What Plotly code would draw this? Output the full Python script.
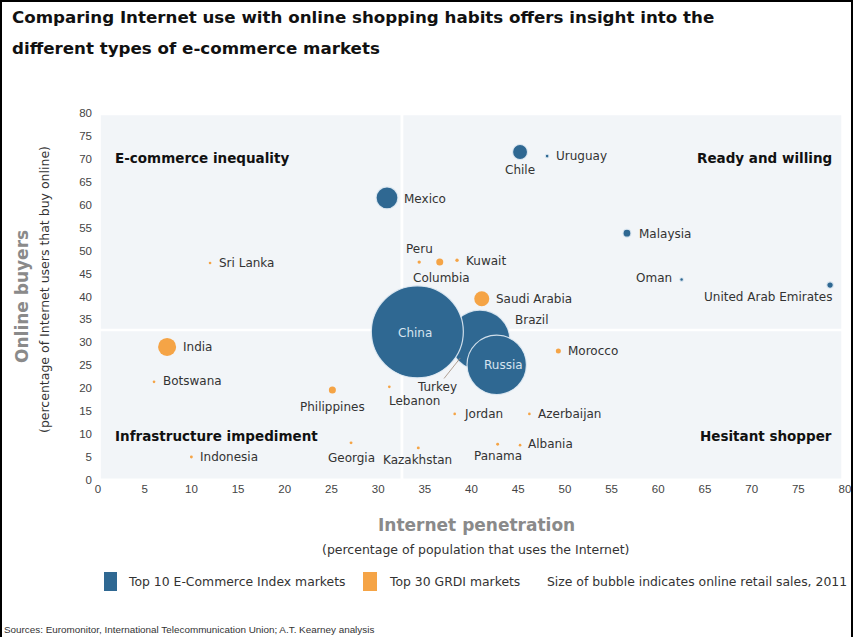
import plotly.graph_objects as go

# ---------------- data ----------------
blue_names = ["Brazil", "China", "Russia", "Mexico", "Chile", "Malaysia",
              "United Arab Emirates", "Uruguay", "Oman"]
blue_x = [40.9, 34.2, 42.7, 30.95, 45.2, 56.65, 78.4, 48.1, 62.5]
blue_y = [30.5, 32.3, 25.1, 61.5, 71.5, 53.8, 42.5, 70.6, 43.7]
blue_sales = [25.5, 60, 25, 3.4, 1.6, 0.45, 0.3, 0.1, 0.1]

orange_names = ["India", "Saudi Arabia", "Philippines", "Morocco", "Columbia", "Peru",
                "Kuwait", "Sri Lanka", "Botswana", "Lebanon", "Turkey", "Jordan",
                "Azerbaijan", "Albania", "Panama", "Kazakhstan", "Georgia", "Indonesia"]
orange_x = [7.4, 41.1, 25.1, 49.3, 36.6, 34.4, 38.45, 12.0, 6.0, 31.2, 38.8, 38.2,
            46.2, 45.2, 42.8, 34.3, 27.1, 10.0]
orange_y = [29.0, 39.5, 19.6, 28.1, 47.5, 47.5, 47.9, 47.3, 21.4, 20.3, 26.6, 14.4,
            14.4, 7.6, 7.8, 7.0, 8.1, 5.0]
orange_sales = [2.3, 1.6, 0.35, 0.18, 0.35, 0.08, 0.08, 0.05, 0.05, 0.05, 0.3, 0.05,
                0.05, 0.05, 0.06, 0.06, 0.06, 0.06]

x_ticks = list(range(0, 81, 5))
y_ticks = list(range(0, 81, 5))

quadrant_labels = ["E-commerce inequality", "Ready and willing",
                   "Infrastructure impediment", "Hesitant shopper"]

# ---------------- style / placement ----------------
BLUE = "#2f6892"
ORANGE = "#f5a446"
FONT = "DejaVu Sans, sans-serif"
TICKFONT = "Liberation Sans, Arial, sans-serif"
L, T, W, H = 98, 113, 747, 367          # plot area in px


def px(x):
    return (x - L) / W


def py(y):
    return (T + H - y) / H


# label placement: (xanchor, dx px, dy px screen-down)
label_place = {
    "Chile": ("center", 0, 18), "Uruguay": ("left", 7, 0), "Mexico": ("left", 15, 1),
    "Malaysia": ("left", 10, 1), "United Arab Emirates": ("right", 4, 12),
    "Oman": ("right", -8, -2), "Brazil": ("left", 33, -20),
    "India": ("left", 14, 0), "Saudi Arabia": ("left", 12, 0),
    "Philippines": ("center", 0, 17), "Morocco": ("left", 8, 0),
    "Columbia": ("center", 2, 16), "Peru": ("center", 0, -13),
    "Kuwait": ("left", 7, 1), "Sri Lanka": ("left", 7, 0), "Botswana": ("left", 7, -1),
    "Lebanon": ("left", -2, 14), "Jordan": ("left", 7, 0), "Azerbaijan": ("left", 7, 0),
    "Albania": ("left", 6, -1), "Panama": ("center", 0, 12),
    "Kazakhstan": ("center", -1, 12), "Georgia": ("center", 0, 15),
    "Indonesia": ("left", 7, 0),
}

sizeref = 2.0 * max(blue_sales + orange_sales) / (92 ** 2)

fig = go.Figure()

# quadrant background panels
panels = [(0.3, 32.4, 32.95, 79.5), (32.7, 79.6, 32.95, 79.5),
          (0.3, 32.4, 0.3, 32.4), (32.7, 79.6, 0.3, 32.4)]
for x0, x1, y0, y1 in panels:
    fig.add_shape(type="rect", xref="x", yref="y", x0=x0, x1=x1, y0=y0, y1=y1,
                  fillcolor="#f2f5f8", line=dict(width=0), layer="below")

fig.add_trace(go.Scatter(
    x=orange_x, y=orange_y, mode="markers", name="Top 30 GRDI markets",
    marker=dict(size=orange_sales, sizemode="area", sizeref=sizeref, sizemin=1.3,
                color=ORANGE, opacity=1, line=dict(width=0)),
    hovertext=orange_names, showlegend=False))

fig.add_trace(go.Scatter(
    x=blue_x, y=blue_y, mode="markers", name="Top 10 E-Commerce Index markets",
    marker=dict(size=blue_sales, sizemode="area", sizeref=sizeref, sizemin=1.3,
                color=BLUE, opacity=1, line=dict(width=1.2, color="rgba(225,235,244,0.9)")),
    hovertext=blue_names, showlegend=False))

# country labels
for names, xs, ys in [(blue_names, blue_x, blue_y), (orange_names, orange_x, orange_y)]:
    for n, x, y in zip(names, xs, ys):
        if n in label_place:
            anc, dx, dy = label_place[n]
            fig.add_annotation(x=x, y=y, text=n, showarrow=False, xanchor=anc,
                               yanchor="middle", xshift=dx, yshift=-dy,
                               font=dict(family=FONT, size=12, color="#333333"))

# in-bubble labels
for n, dx, dy in [("China", -2, 1), ("Russia", 7, 0)]:
    i = blue_names.index(n)
    fig.add_annotation(x=blue_x[i], y=blue_y[i], text=n, showarrow=False,
                       xshift=dx, yshift=-dy,
                       font=dict(family=FONT, size=12, color="#d6e4f0"))

# Turkey with leader line
i = orange_names.index("Turkey")
fig.add_annotation(x=orange_x[i], y=orange_y[i], text="Turkey", showarrow=True,
                   arrowhead=0, arrowwidth=0.8, arrowcolor="#a08a7a", ax=-23, ay=29,
                   standoff=0, font=dict(family=FONT, size=12, color="#333333"))

# quadrant labels
qpos = [(113, 158, "left"), (834, 158, "right"), (113, 436, "left"), (834, 436, "right")]
for txt, (qx, qy, anc) in zip(quadrant_labels, qpos):
    fig.add_annotation(xref="paper", yref="paper", x=px(qx), y=py(qy), text="<b>%s</b>" % txt,
                       showarrow=False, xanchor=anc, yanchor="middle",
                       font=dict(family=FONT, size=13.5, color="#111111"))

# title
for line, ty in [("Comparing Internet use with online shopping habits offers insight into the", 17),
                 ("different types of e-commerce markets", 48)]:
    fig.add_annotation(xref="paper", yref="paper", x=px(10), y=py(ty), xanchor="left",
                       yanchor="middle", showarrow=False, text="<b>%s</b>" % line,
                       font=dict(family=FONT, size=16.7, color="#111111"))

# axis titles
fig.add_annotation(xref="paper", yref="paper", x=px(22), y=py(297), textangle=-90,
                   xanchor="center", yanchor="middle",
                   showarrow=False, text="<b>Online buyers</b>",
                   font=dict(family=FONT, size=17, color="#8a8a8a"))
fig.add_annotation(xref="paper", yref="paper", x=px(44), y=py(290), textangle=-90,
                   xanchor="center", yanchor="middle",
                   showarrow=False, text="(percentage of Internet users that buy online)",
                   font=dict(family=FONT, size=12.5, color="#333333"))
fig.add_annotation(xref="paper", yref="paper", x=px(476), y=py(525),
                   xanchor="center", yanchor="middle",
                   showarrow=False, text="<b>Internet penetration</b>",
                   font=dict(family=FONT, size=17, color="#8a8a8a"))
fig.add_annotation(xref="paper", yref="paper", x=px(476), y=py(549),
                   xanchor="center", yanchor="middle",
                   showarrow=False, text="(percentage of population that uses the Internet)",
                   font=dict(family=FONT, size=12.5, color="#333333"))

# legend
fig.add_shape(type="rect", xref="paper", yref="paper", x0=px(104), x1=px(117),
              y0=py(591), y1=py(572), fillcolor=BLUE, line=dict(width=0))
fig.add_shape(type="rect", xref="paper", yref="paper", x0=px(363), x1=px(377),
              y0=py(591), y1=py(572), fillcolor=ORANGE, line=dict(width=0))
for txt, lx in [("Top 10 E-Commerce Index markets", 126), ("Top 30 GRDI markets", 387),
                ("Size of bubble indicates online retail sales, 2011", 545)]:
    fig.add_annotation(xref="paper", yref="paper", x=px(lx), y=py(581), xanchor="left",
                       yanchor="middle", showarrow=False, text=txt,
                       font=dict(family=FONT, size=12.4, color="#333333"))

# sources
fig.add_annotation(xref="paper", yref="paper", x=px(2), y=py(629), xanchor="left",
                   yanchor="middle", showarrow=False,
                   text="Sources: Euromonitor, International Telecommunication Union; A.T. Kearney analysis",
                   font=dict(family=TICKFONT, size=9.9, color="#333333"))

# frame
fig.add_shape(type="rect", xref="paper", yref="paper", x0=px(1), x1=px(852),
              y0=py(640), y1=py(1), line=dict(color="#000000", width=2),
              fillcolor="rgba(0,0,0,0)")

fig.update_layout(
    width=856, height=637, autosize=False,
    margin=dict(l=L, r=856 - L - W, t=T, b=637 - T - H, autoexpand=False),
    paper_bgcolor="white", plot_bgcolor="white",
    showlegend=False,
    xaxis=dict(range=[0, 80], tickvals=x_ticks, showgrid=False, zeroline=False,
               showline=False, ticks="", automargin=False,
               tickfont=dict(family=TICKFONT, size=11.5, color="#444444"),
               fixedrange=True),
    yaxis=dict(range=[0, 80], tickvals=y_ticks, showgrid=False, zeroline=False,
               showline=False, ticks="", ticklabelstandoff=5, automargin=False,
               tickfont=dict(family=TICKFONT, size=11.5, color="#444444"), fixedrange=True),
)

fig.write_html("out.html", config={"displayModeBar": False},
               post_script="document.body.style.margin='0px';document.body.style.overflow='hidden';")
